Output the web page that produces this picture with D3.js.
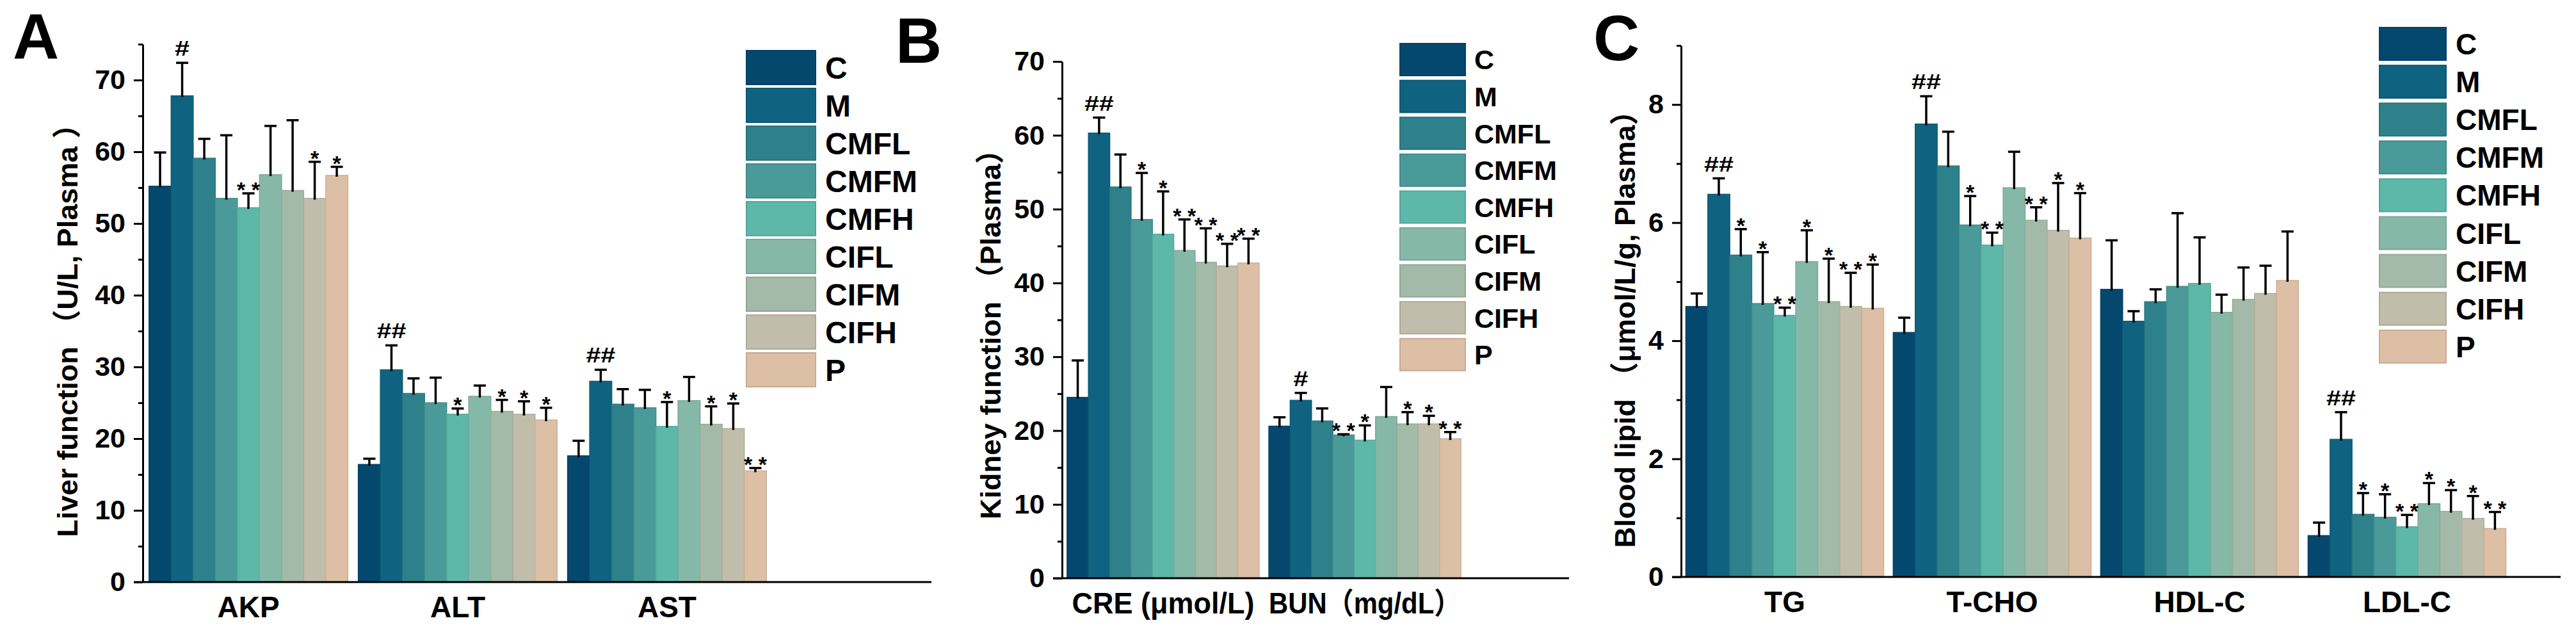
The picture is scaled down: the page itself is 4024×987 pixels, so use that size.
<!DOCTYPE html>
<html>
<head>
<meta charset="utf-8">
<script src="https://cdn.jsdelivr.net/npm/d3@7"></script>
<style>
  body { margin: 0; background: #fff; }
  svg text { font-family: "Liberation Sans", Arial, "Noto Sans CJK SC", sans-serif; font-weight: bold; }
</style>
</head>
<body>
<div id="chart"></div>
<script>
// treatment groups, same for every panel
const groups = ['C', 'M', 'CMFL', 'CMFM', 'CMFH', 'CIFL', 'CIFM', 'CIFH', 'P'];
const groupColors = ['#05486e', '#0f6380', '#2e818a', '#4a9a9a', '#5db8aa', '#86b8a8', '#a4baa8', '#c0bdaa', '#dcbfa5'];

// A: liver function
const liverItems = ['AKP', 'ALT', 'AST'];
const liverMeans = [
    [55.2, 67.8, 59.1, 53.5, 52.2, 56.8, 54.6, 53.5, 56.7],
    [16.4, 29.6, 26.3, 25.0, 23.4, 25.9, 23.8, 23.4, 22.6],
    [17.6, 28.0, 24.8, 24.3, 21.7, 25.3, 22.0, 21.4, 15.5]
];
const liverSD = [
    [4.7, 4.6, 2.7, 8.8, 2.0, 6.8, 9.8, 5.1, 1.2],
    [0.8, 3.4, 2.1, 3.5, 0.8, 1.5, 1.6, 1.8, 1.7],
    [2.1, 1.6, 2.1, 2.5, 3.4, 3.3, 2.5, 3.5, 0.4]
];
const liverSig = [
    ['', '#', '', '', '**', '', '', '*', '*'],
    ['', '##', '', '', '*', '', '*', '*', '*'],
    ['', '##', '', '', '*', '', '*', '*', '**']
];

// B: kidney function
const kidneyItems = ['CRE (μmol/L)', 'BUN（mg/dL）'];
const kidneyMeans = [
    [24.5, 60.3, 53.0, 48.6, 46.6, 44.4, 42.8, 42.3, 42.7],
    [20.6, 24.1, 21.3, 19.4, 18.7, 21.9, 20.9, 20.9, 18.9]
];
const kidneySD = [
    [5.0, 2.1, 4.4, 6.3, 5.8, 4.2, 4.6, 3.0, 3.3],
    [1.2, 1.0, 1.7, 0.1, 2.0, 4.0, 1.6, 1.1, 0.9]
];
const kidneySig = [
    ['', '##', '', '*', '*', '**', '**', '**', '**'],
    ['', '#', '', '**', '*', '', '*', '*', '**']
];

// C: blood lipid
const lipidItems = ['TG', 'T-CHO', 'HDL-C', 'LDL-C'];
const lipidMeans = [
    [4.58, 6.48, 5.45, 4.63, 4.43, 5.34, 4.66, 4.58, 4.55],
    [4.14, 7.67, 6.96, 5.96, 5.62, 6.59, 6.04, 5.87, 5.74],
    [4.87, 4.33, 4.66, 4.92, 4.97, 4.48, 4.70, 4.80, 5.02],
    [0.70, 2.33, 1.06, 1.01, 0.85, 1.24, 1.11, 0.99, 0.82]
];
const lipidSD = [
    [0.22, 0.27, 0.44, 0.87, 0.13, 0.53, 0.73, 0.57, 0.74],
    [0.25, 0.47, 0.58, 0.49, 0.21, 0.61, 0.22, 0.80, 0.76],
    [0.83, 0.17, 0.21, 1.24, 0.78, 0.30, 0.54, 0.47, 0.83],
    [0.22, 0.46, 0.36, 0.39, 0.20, 0.35, 0.36, 0.38, 0.28]
];
const lipidSig = [
    ['', '##', '*', '*', '**', '*', '*', '**', '*'],
    ['', '##', '', '*', '**', '', '**', '*', '*'],
    ['', '', '', '', '', '', '', '', ''],
    ['', '##', '*', '*', '**', '*', '*', '*', '**']
];

const svg = d3.select("#chart")
    .append("svg")
        .attr("width", 4024)
        .attr("height", 987);

svg.append("rect").attr("width", 4024).attr("height", 987).attr("fill", "#fff");

const color = d3.scaleOrdinal().domain(groups).range(groupColors);

function drawPanel(p) {
    const g = svg.append("g");

    const y = d3.scaleLinear().domain([0, p.yMax]).range([p.y0, p.yTop]);
    const x0 = d3.scaleBand().domain(p.items).range(p.xRange)
        .paddingInner(p.padIn).paddingOuter(p.padOut);
    const x1 = d3.scaleBand().domain(groups).range([0, x0.bandwidth()]);

    // bars
    p.items.forEach((item, i) => {
        const rows = groups.map((name, j) => ({
            name, mean: p.means[i][j], sd: p.sd[i][j], sig: p.sig[i][j]
        }));
        const gg = g.append("g").attr("transform", "translate(" + x0(item) + ",0)");
        const cx = d => x1(d.name) + x1.bandwidth() / 2;

        gg.selectAll("rect")
            .data(rows)
            .enter().append("rect")
            .attr("x", d => x1(d.name))
            .attr("y", d => y(d.mean))
            .attr("width", x1.bandwidth())
            .attr("height", d => y(0) - y(d.mean))
            .attr("fill", d => color(d.name))
            .attr("stroke", d => d3.color(color(d.name)).darker(0.25))
            .attr("stroke-width", 1.5);

        // error bars (upper only)
        const eb = gg.selectAll(".err")
            .data(rows)
            .enter().append("g").attr("class", "err");
        eb.append("line")
            .attr("x1", cx).attr("x2", cx)
            .attr("y1", d => y(d.mean) + 2)
            .attr("y2", d => y(d.mean + d.sd))
            .attr("stroke", "#000").attr("stroke-width", 3.5);
        eb.append("line")
            .attr("x1", d => cx(d) - 9.5)
            .attr("x2", d => cx(d) + 9.5)
            .attr("y1", d => y(d.mean + d.sd))
            .attr("y2", d => y(d.mean + d.sd))
            .attr("stroke", "#000").attr("stroke-width", 3.5);

        // significance marks
        gg.selectAll(".sig")
            .data(rows.filter(d => d.sig))
            .enter().append("text")
            .attr("class", "sig")
            .attr("x", cx)
            .attr("y", d => y(d.mean + d.sd) + (d.sig[0] === '#' ? -11 : 6))
            .attr("text-anchor", "middle")
            .style("font-size", "34px")
            .each(function(d) {
                if (d.sig[0] === '#') {
                    d3.select(this).attr("textLength", d.sig.length * 23)
                        .attr("lengthAdjust", "spacingAndGlyphs");
                }
            })
            .text(d => d.sig === '**' ? '* *' : d.sig);
    });

    // y axis
    const yAxis = g.append("g")
        .attr("transform", "translate(" + p.axisX + ",0)")
        .call(d3.axisLeft(y).tickValues(d3.range(0, p.yMax + 0.001, p.major))
            .tickSize(14).tickSizeOuter(0).tickPadding(13).tickFormat(d3.format("d")));
    yAxis.select(".domain").attr("stroke-width", 3);
    yAxis.selectAll(".tick line").attr("stroke-width", 3);
    yAxis.selectAll(".tick text")
        .style("font-size", "43px")
        .style("font-family", "'Liberation Sans', Arial, sans-serif")
        .attr("fill", "#000");

    const minor = g.append("g")
        .attr("transform", "translate(" + p.axisX + ",0)")
        .call(d3.axisLeft(y).tickValues(d3.range(p.major / 2, p.yMax + 0.001, p.major))
            .tickSize(7).tickSizeOuter(0).tickFormat(""));
    minor.select(".domain").remove();
    minor.selectAll(".tick line").attr("stroke-width", 3);

    // x axis baseline
    g.append("line")
        .attr("x1", p.axisX - 14).attr("x2", p.xEnd)
        .attr("y1", y(0)).attr("y2", y(0))
        .attr("stroke", "#000").attr("stroke-width", 3);

    // category labels
    g.selectAll(".xlab")
        .data(p.items)
        .enter().append("text")
        .attr("class", "xlab")
        .attr("x", d => x0(d) + x0.bandwidth() / 2)
        .attr("y", y(0) + 55)
        .attr("text-anchor", "middle")
        .style("font-size", "46px")
        .each(function(d, i) {
            if (p.labelLen) {
                d3.select(this).attr("textLength", p.labelLen[i]).attr("lengthAdjust", "spacingAndGlyphs");
            }
        })
        .text(d => d);

    // y title
    g.append("text")
        .attr("transform", "translate(" + p.titleX + "," + p.titleY + ") rotate(-90)")
        .attr("text-anchor", "middle")
        .attr("dy", "0.36em")
        .style("font-size", "45px")
        .text(p.title);

    // panel letter
    g.append("text")
        .attr("x", p.letterX).attr("y", p.letterY)
        .style("font-size", "100px")
        .text(p.letter);

    // legend
    const L = p.legend;
    const legend = g.selectAll(".legend")
        .data(groups)
        .enter().append("g")
        .attr("class", "legend")
        .attr("transform", (d, i) => "translate(" + L.x + "," + (L.y + i * L.step) + ")");
    legend.append("rect")
        .attr("width", L.w)
        .attr("height", L.h)
        .attr("fill", d => color(d))
        .attr("stroke", d => d3.color(color(d)).darker(0.3))
        .attr("stroke-width", 2);
    legend.append("text")
        .attr("x", L.tx - L.x)
        .attr("y", L.h / 2)
        .attr("dy", "0.36em")
        .style("font-size", L.fs + "px")
        .text(d => d);
}

drawPanel({
    letter: 'A', letterX: 20, letterY: 92,
    items: liverItems, means: liverMeans, sd: liverSD, sig: liverSig,
    yMax: 75, major: 10, y0: 909, yTop: 69,
    axisX: 223, xRange: [223, 1207], padIn: 0.05, padOut: 0.03, xEnd: 1455,
    title: 'Liver function （U/L, Plasma ）', titleX: 105, titleY: 505,
    legend: {x: 1166, y: 79, w: 108, h: 53, step: 59, tx: 1289, fs: 48}
});

drawPanel({
    letter: 'B', letterX: 1399, letterY: 98,
    items: kidneyItems, means: kidneyMeans, sd: kidneySD, sig: kidneySig,
    yMax: 70, major: 10, y0: 903, yTop: 96,
    axisX: 1659, xRange: [1659, 2290], padIn: 0.048, padOut: 0.025, xEnd: 2451,
    labelLen: [285, 300],
    title: 'Kidney function （Plasma）', titleX: 1547, titleY: 511,
    legend: {x: 2187, y: 68, w: 102, h: 50, step: 57.6, tx: 2303, fs: 43}
});

drawPanel({
    letter: 'C', letterX: 2489, letterY: 94,
    items: lipidItems, means: lipidMeans, sd: lipidSD, sig: lipidSig,
    yMax: 9, major: 2, y0: 901, yTop: 71,
    axisX: 2626, xRange: [2626, 3922], padIn: 0.046, padOut: 0.023, xEnd: 4000,
    title: 'Blood lipid （μmol/L/g, Plasma）', titleX: 2538, titleY: 503,
    legend: {x: 3717, y: 43, w: 104, h: 51, step: 59.1, tx: 3836, fs: 46}
});
</script>
</body>
</html>
